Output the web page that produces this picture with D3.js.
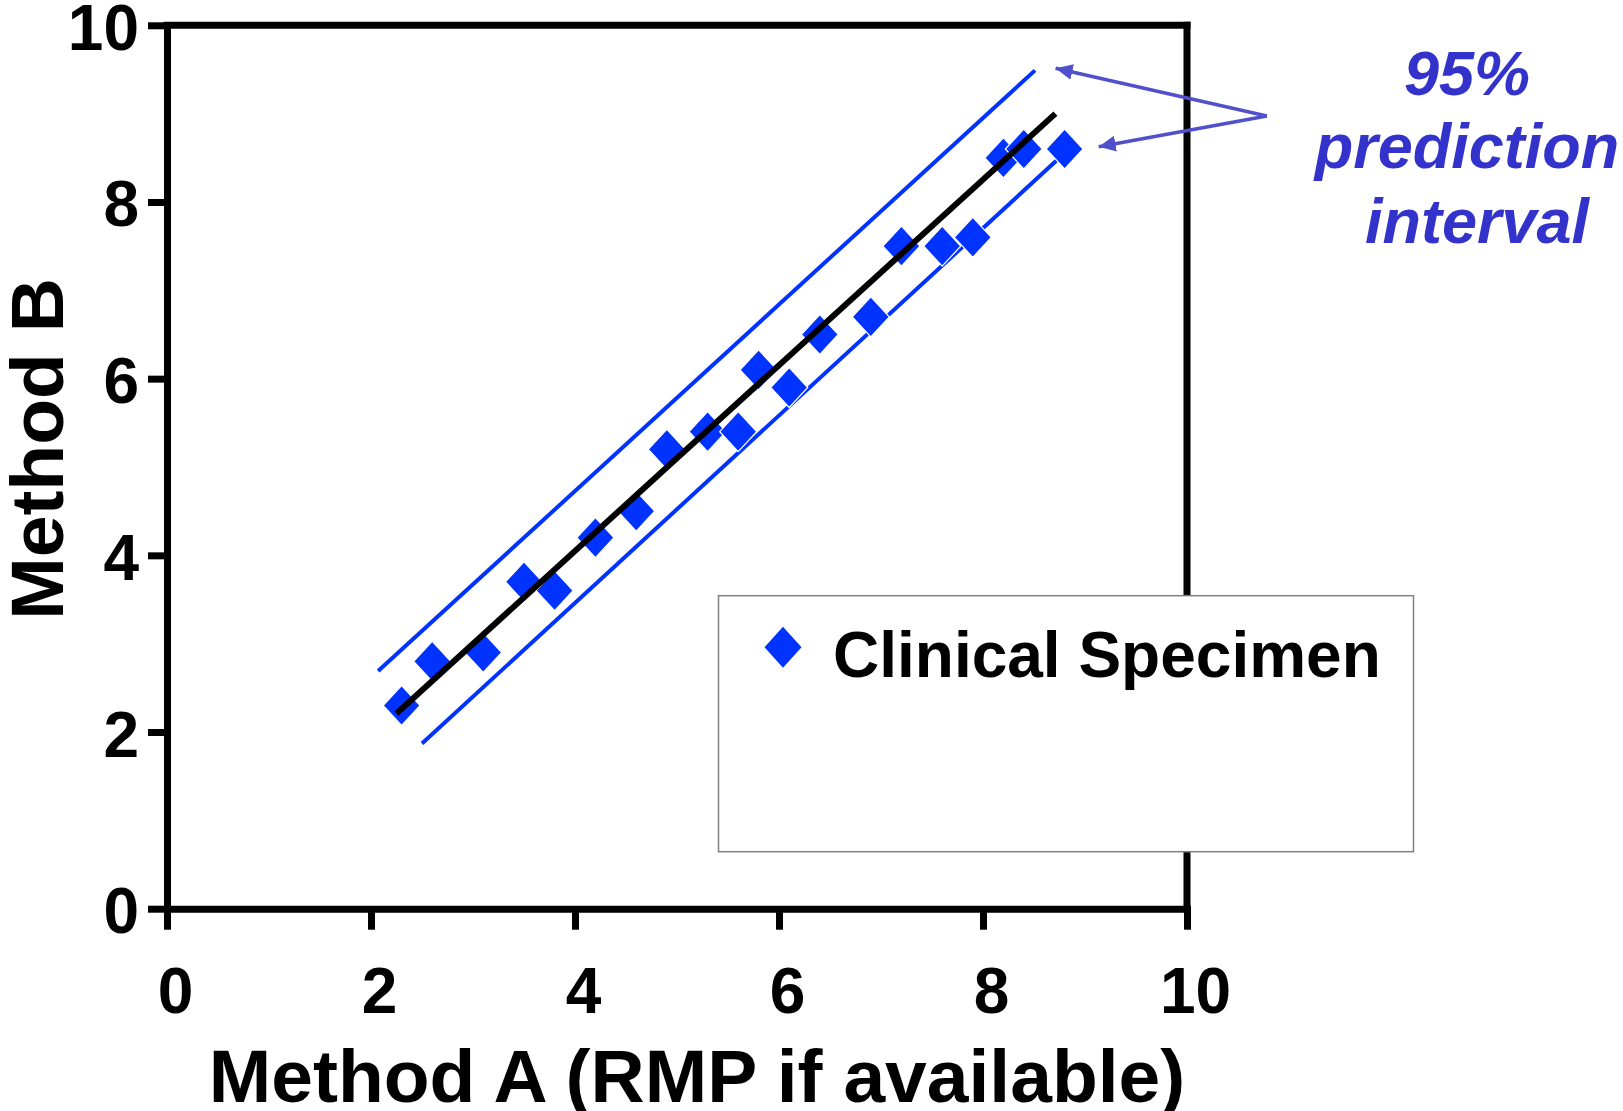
<!DOCTYPE html>
<html>
<head>
<meta charset="utf-8">
<script src="https://cdn.jsdelivr.net/npm/d3@7"></script>
<style>
  html, body { margin: 0; padding: 0; background: #ffffff; }
  svg { display: block; }
  text { font-family: "Liberation Sans", Arial, Helvetica, sans-serif; font-weight: bold; }
</style>
</head>
<body>
<svg id="chart" width="1623" height="1111"></svg>
<script>
// ---- data ----
const methodA = [2.3, 2.6, 3.1, 3.5, 3.8, 4.2, 4.6, 4.9, 5.3, 5.6, 5.8, 6.1, 6.4, 6.9, 7.2, 7.6, 7.9, 8.2, 8.4, 8.8];
const methodB = [2.3, 2.8, 2.9, 3.7, 3.6, 4.2, 4.5, 5.2, 5.4, 5.4, 6.1, 5.9, 6.5, 6.7, 7.5, 7.5, 7.6, 8.5, 8.6, 8.6];
const fitX = [2.25, 8.71];
const fitY = [2.21, 9.00];
const upperX = [2.07, 8.51];
const upperY = [2.69, 9.49];
const lowerX = [2.50, 8.75];
const lowerY = [1.87, 8.50];
const xTicks = [0, 2, 4, 6, 8, 10];
const yTicks = [0, 2, 4, 6, 8, 10];
const xTitle = "Method A (RMP if available)";
const yTitle = "Method B";
const seriesName = "Clinical Specimen";
const annotationLines = ["95%", "prediction", "interval"];

// ---- layout ----
const svg = d3.select("#chart");
const x = d3.scaleLinear().domain([0, 10]).range([167, 1187]);
const y = d3.scaleLinear().domain([0, 10]).range([908.7, 25.3]);
const blue = "#0033ff";
const AXW = 7;

// axes
const yAxis = d3.axisLeft(y).tickValues(yTicks).tickSize(19).tickSizeOuter(0).tickPadding(9).tickFormat(d3.format("d"));
const xAxis = d3.axisBottom(x).tickValues(xTicks).tickSize(21).tickSizeOuter(0).tickPadding(9).tickFormat(d3.format("d"));

const gy = svg.append("g").attr("transform", `translate(${x(0)},0)`).call(yAxis);
const gx = svg.append("g").attr("transform", `translate(0,${y(0)})`).call(xAxis);

[gx, gy].forEach(g => {
  g.select(".domain").attr("stroke", "#000").attr("stroke-width", AXW).attr("stroke-linecap", "square");
  g.selectAll(".tick line").attr("stroke", "#000").attr("stroke-width", AXW);
  g.selectAll(".tick text").attr("fill", "#000").style("font-size", "64px").style("font-weight", "bold")
    .style("font-family", '"Liberation Sans", Arial, sans-serif');
});
gy.selectAll(".tick text").attr("x", -28).attr("dy", null).attr("y", 24);
gx.selectAll(".tick text").attr("dy", null).attr("y", 104).attr("x", 8);

// top and right borders
svg.append("line").attr("x1", x(0)).attr("x2", x(10)).attr("y1", y(10)).attr("y2", y(10))
  .attr("stroke", "#000").attr("stroke-width", AXW).attr("stroke-linecap", "square");
svg.append("line").attr("x1", x(10)).attr("x2", x(10)).attr("y1", y(10)).attr("y2", y(0))
  .attr("stroke", "#000").attr("stroke-width", AXW).attr("stroke-linecap", "square");

// axis titles
svg.append("text").attr("x", 697).attr("y", 1102).attr("text-anchor", "middle")
  .style("font-size", "75px").attr("fill", "#000").text(xTitle);
svg.append("text").attr("transform", "translate(63,449) rotate(-90)").attr("text-anchor", "middle")
  .style("font-size", "75px").attr("fill", "#000").text(yTitle);

// prediction interval lines
const line = d3.line().x(d => x(d[0])).y(d => y(d[1]));
svg.append("path").datum(d3.zip(upperX, upperY)).attr("d", line)
  .attr("stroke", blue).attr("stroke-width", 4).attr("fill", "none");
svg.append("path").datum(d3.zip(lowerX, lowerY)).attr("d", line)
  .attr("stroke", blue).attr("stroke-width", 4).attr("fill", "none");

// diamonds
const hw = 18.5, hh = 20;
function diamond(cx, cy, w, h) {
  const p = d3.path();
  p.moveTo(cx, cy - h); p.lineTo(cx + w, cy); p.lineTo(cx, cy + h); p.lineTo(cx - w, cy); p.closePath();
  return p.toString();
}
svg.append("g").selectAll("path").data(d3.zip(methodA, methodB)).join("path")
  .attr("d", d => diamond(x(d[0]), y(d[1]), hw, hh))
  .attr("fill", blue).attr("stroke", "#ffffff").attr("stroke-width", 1.2);

// regression line
svg.append("path").datum(d3.zip(fitX, fitY)).attr("d", line)
  .attr("stroke", "#000").attr("stroke-width", 6).attr("fill", "none");

// legend
svg.append("rect").attr("x", 718.5).attr("y", 595.7).attr("width", 695).attr("height", 256)
  .attr("fill", "#fff").attr("stroke", "#808080").attr("stroke-width", 1.5);
svg.append("path").attr("d", diamond(783, 647.3, 18.5, 20.5)).attr("fill", blue);
svg.append("text").attr("x", 833).attr("y", 676.7).style("font-size", "64px").attr("fill", "#000").text(seriesName);

// annotation
const annColor = "#3333cc";
const arrowColor = "#5050cc";
const defs = svg.append("defs");
defs.append("marker").attr("id", "ah").attr("markerUnits", "userSpaceOnUse")
  .attr("markerWidth", 22).attr("markerHeight", 18).attr("refX", 17).attr("refY", 8)
  .attr("orient", "auto").append("path").attr("d", "M0,0 L17,8 L0,16 Z").attr("fill", arrowColor);
const jx = 1266.8, jy = 116;
[[1055.6, 68.3], [1098.7, 146.7]].forEach(t => {
  svg.append("line").attr("x1", jx).attr("y1", jy).attr("x2", t[0]).attr("y2", t[1])
    .attr("stroke", arrowColor).attr("stroke-width", 3.5).attr("marker-end", "url(#ah)");
});
const annX = [1467, 1467, 1477];
const annY = [95, 168.3, 243.3];
svg.append("g").selectAll("text").data(annotationLines).join("text")
  .attr("x", (d, i) => annX[i]).attr("y", (d, i) => annY[i]).attr("text-anchor", "middle")
  .style("font-size", "63px").style("font-style", "italic").attr("fill", annColor).text(d => d);
</script>
</body>
</html>
